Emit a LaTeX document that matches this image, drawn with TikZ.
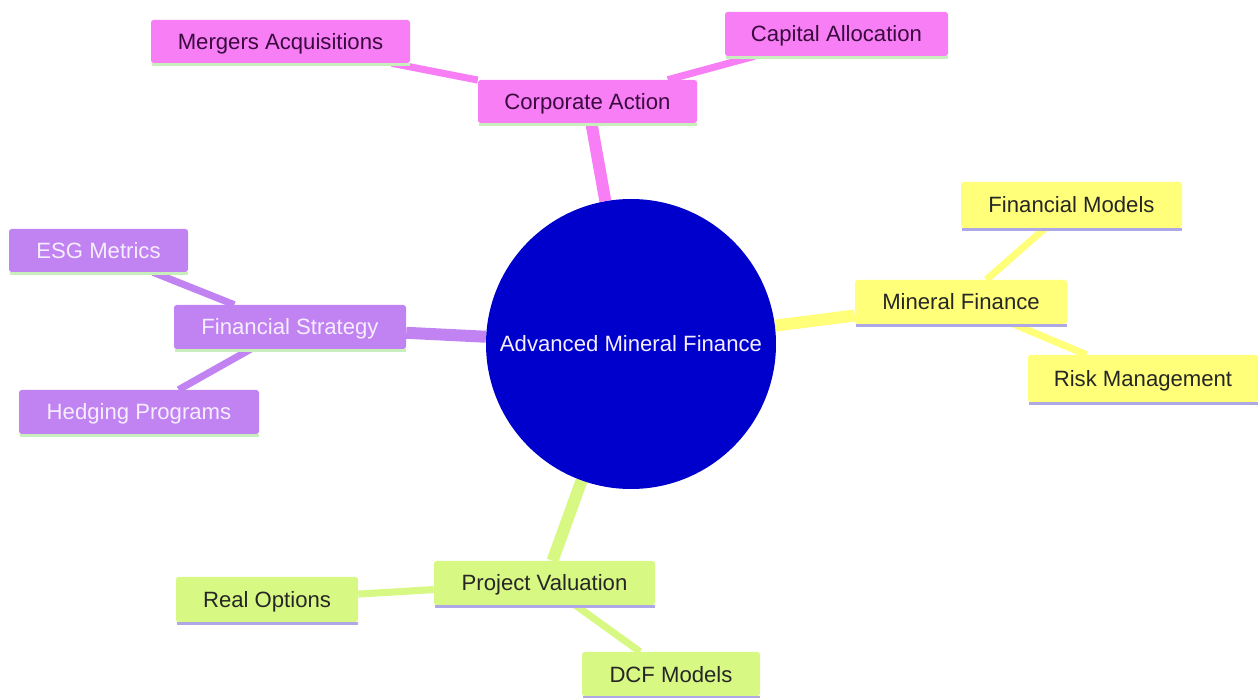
\documentclass[tikz,border=0pt]{standalone}
\usepackage{fontspec}
\setmainfont{Liberation Sans}
\pgfdeclarelayer{bg}
\pgfsetlayers{bg,main}
\definecolor{pk}{HTML}{F77EF5}
\definecolor{pktext}{HTML}{3A0A3E}
\definecolor{pu}{HTML}{C182F2}
\definecolor{putext}{HTML}{F6EEFF}
\definecolor{ye}{HTML}{FFFF7A}
\definecolor{gr}{HTML}{D8F884}
\definecolor{ctr}{HTML}{0000CC}
\definecolor{gline}{HTML}{C8EEBC}
\definecolor{bline}{HTML}{AFA8E6}
\begin{document}
\begin{tikzpicture}[x=0.75pt,y=-0.75pt,
  box/.style={rectangle,rounded corners=2pt,inner sep=0pt,text height=12pt,text depth=0pt,font=\fontsize{16.6pt}{19pt}\selectfont},
  pkbox/.style={box,fill=pk,text=pktext},
  pubox/.style={box,fill=pu,text=putext},
  yebox/.style={box,fill=ye,text=black!85},
  grbox/.style={box,fill=gr,text=black!85},
  mainlink/.style={line width=9pt},
  sublink/.style={line width=5.3pt},
  under/.style={line width=2.2pt}]
\useasboundingbox (0,0) rectangle (1258,698);

% center
\node[circle,fill=ctr,minimum size=217.5pt,inner sep=0pt,text=putext,text height=12pt,text depth=0pt,font=\fontsize{16.6pt}{19pt}\selectfont] (c) at (631,344) {Advanced Mineral Finance};

% pink branch
\node[pkbox,minimum width=164.25pt,minimum height=32.25pt] (ca) at (587.5,101.5) {Corporate Action};
\node[pkbox,minimum width=194.25pt,minimum height=32.25pt] (ma) at (280.5,41.5) {Mergers Acquisitions};
\node[pkbox,minimum width=167.25pt,minimum height=33pt] (cap) at (836.5,34) {Capital Allocation};

% purple branch
\node[pubox,minimum width=174pt,minimum height=33pt] (fs) at (290,327) {Financial Strategy};
\node[pubox,minimum width=134.25pt,minimum height=32.25pt] (esg) at (98.5,250.5) {ESG Metrics};
\node[pubox,minimum width=180pt,minimum height=33pt] (hp) at (139,412) {Hedging Programs};

% yellow branch
\node[yebox,minimum width=159pt,minimum height=33pt] (mf) at (961,302) {Mineral Finance};
\node[yebox,minimum width=165.75pt,minimum height=34.5pt] (fm) at (1071.5,205) {Financial Models};
\node[yebox,minimum width=172.5pt,minimum height=35.25pt] (rm) at (1143,378.5) {Risk Management};

% green branch
\node[grbox,minimum width=165.75pt,minimum height=33pt] (pv) at (544.5,583) {Project Valuation};
\node[grbox,minimum width=136.5pt,minimum height=33.75pt] (ro) at (267,599.5) {Real Options};
\node[grbox,minimum width=133.5pt,minimum height=33pt] (dcf) at (671,674) {DCF Models};

\begin{pgfonlayer}{bg}
\draw[pk,mainlink] (c) -- (ca);
\draw[pk,sublink] (ca) -- (ma);
\draw[pk,sublink] (ca) -- (cap);
\draw[pu,mainlink] (c) -- (fs);
\draw[pu,sublink] (fs) -- (esg);
\draw[pu,sublink] (fs) -- (hp);
\draw[ye,mainlink] (c) -- (mf);
\draw[ye,sublink] (mf) -- (fm);
\draw[ye,sublink] (mf) -- (rm);
\draw[gr,mainlink] (c) -- (pv);
\draw[gr,sublink] (pv) -- (ro);
\draw[gr,sublink] (pv) -- (dcf);
\end{pgfonlayer}

% bottom borders
\foreach \n in {ca,ma,cap,fs,esg,hp}
  \draw[gline,under] ([yshift=-1.1pt,xshift=1pt]\n.south west) -- ([yshift=-1.1pt]\n.south east);
\foreach \n in {mf,fm,rm,pv,ro,dcf}
  \draw[bline,under] ([yshift=-1.1pt,xshift=1pt]\n.south west) -- ([yshift=-1.1pt]\n.south east);
\end{tikzpicture}
\end{document}
